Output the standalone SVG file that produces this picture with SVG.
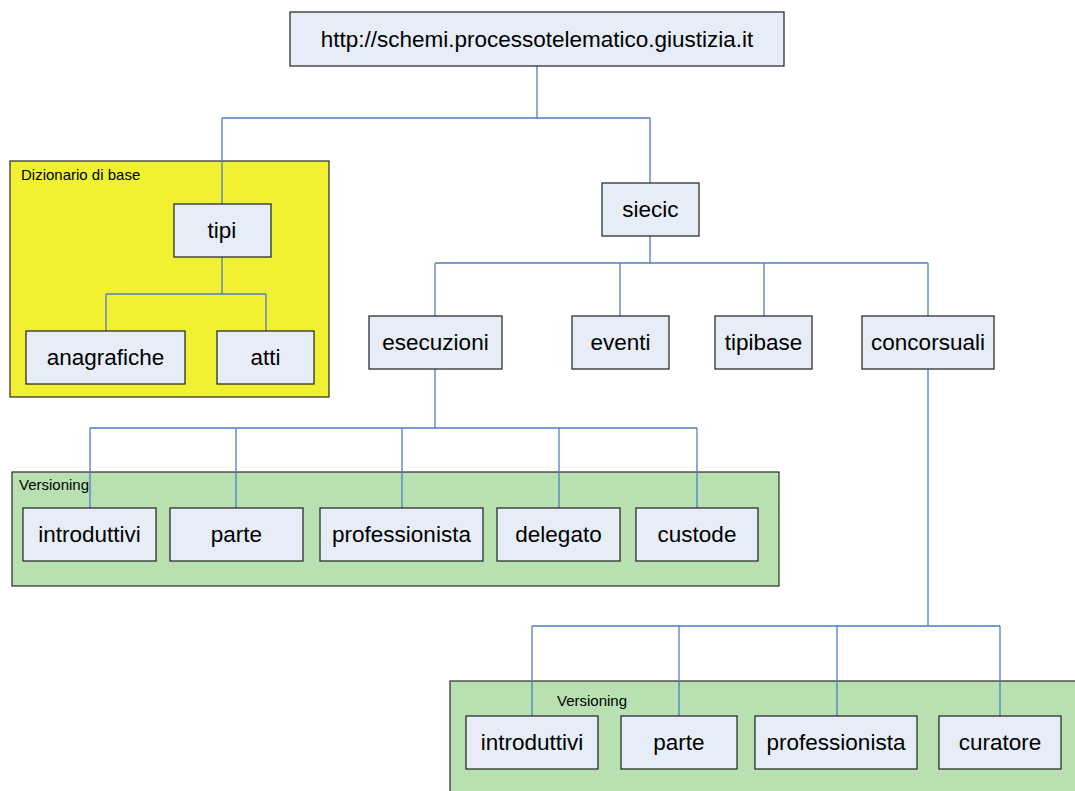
<svg xmlns="http://www.w3.org/2000/svg" width="1075" height="791" viewBox="0 0 1075 791">
<style>
.n rect{fill:#e7edf7;stroke:#1e1e1e;stroke-width:1.2}
.n text{font-family:"Liberation Sans",Arial,sans-serif;font-size:22.5px;fill:#000;text-anchor:middle}
.grp{stroke:#2a2a2a;stroke-width:1.2}
.lbl{font-family:"Liberation Sans",Arial,sans-serif;font-size:15px;fill:#000}
#connectors path{fill:none;stroke:#4f7fc4;stroke-width:1.3}
</style>
<rect width="1075" height="791" fill="#fff"/>
<g id="dizionario">
<rect class="grp" x="10" y="161" width="319" height="236" fill="#f1f133"/>
<text class="lbl" x="21" y="180">Dizionario di base</text>
</g>
<g id="versioning1">
<rect class="grp" x="12" y="472" width="767" height="114" fill="#b8e0b0"/>
<text class="lbl" x="19" y="490">Versioning</text>
</g>
<g id="versioning2">
<rect class="grp" x="450" y="681" width="640" height="130" fill="#b8e0b0"/>
<text class="lbl" x="557" y="706">Versioning</text>
</g>
<g id="connectors">
<path d="M537 66V118M222 118H650M222 118V204M650 118V183"/>
<path d="M222 257V294M106 294H266M106 294V331M266 294V331"/>
<path d="M650 236V263M435 263H928M435 263V316M620 263V316M764 263V316M928 263V316"/>
<path d="M435 369V428M90 428H697M90 428V508M236 428V508M402 428V508M559 428V508M697 428V508"/>
<path d="M928 369V626M532 626H1000M532 626V716M679 626V716M837 626V716M1000 626V716"/>
</g>
<g id="root" class="n"><rect x="290" y="12" width="494" height="54"/><text x="537" y="47">http://schemi.processotelematico.giustizia.it</text></g>
<g id="tipi" class="n"><rect x="174" y="204" width="97" height="53"/><text x="222" y="238">tipi</text></g>
<g id="anagrafiche" class="n"><rect x="26" y="331" width="159" height="53"/><text x="105.5" y="365">anagrafiche</text></g>
<g id="atti" class="n"><rect x="217" y="331" width="97" height="53"/><text x="265.5" y="365">atti</text></g>
<g id="siecic" class="n"><rect x="602" y="183" width="97" height="53"/><text x="650.5" y="217">siecic</text></g>
<g id="esecuzioni" class="n"><rect x="369" y="316" width="133" height="53"/><text x="435.5" y="350">esecuzioni</text></g>
<g id="eventi" class="n"><rect x="572" y="316" width="97" height="53"/><text x="620.5" y="350">eventi</text></g>
<g id="tipibase" class="n"><rect x="715" y="316" width="97" height="53"/><text x="763.5" y="350">tipibase</text></g>
<g id="concorsuali" class="n"><rect x="862" y="316" width="132" height="53"/><text x="928" y="350">concorsuali</text></g>
<g id="introduttivi1" class="n"><rect x="23" y="508" width="133" height="53"/><text x="89.5" y="542">introduttivi</text></g>
<g id="parte1" class="n"><rect x="170" y="508" width="133" height="53"/><text x="236.5" y="542">parte</text></g>
<g id="professionista1" class="n"><rect x="320" y="508" width="163" height="53"/><text x="401.5" y="542">professionista</text></g>
<g id="delegato" class="n"><rect x="497" y="508" width="123" height="53"/><text x="558.5" y="542">delegato</text></g>
<g id="custode" class="n"><rect x="636" y="508" width="122" height="53"/><text x="697" y="542">custode</text></g>
<g id="introduttivi2" class="n"><rect x="466" y="716" width="132" height="53"/><text x="532" y="750">introduttivi</text></g>
<g id="parte2" class="n"><rect x="621" y="716" width="116" height="53"/><text x="679" y="750">parte</text></g>
<g id="professionista2" class="n"><rect x="755" y="716" width="162" height="53"/><text x="836" y="750">professionista</text></g>
<g id="curatore" class="n"><rect x="939" y="716" width="122" height="53"/><text x="1000" y="750">curatore</text></g>
</svg>
